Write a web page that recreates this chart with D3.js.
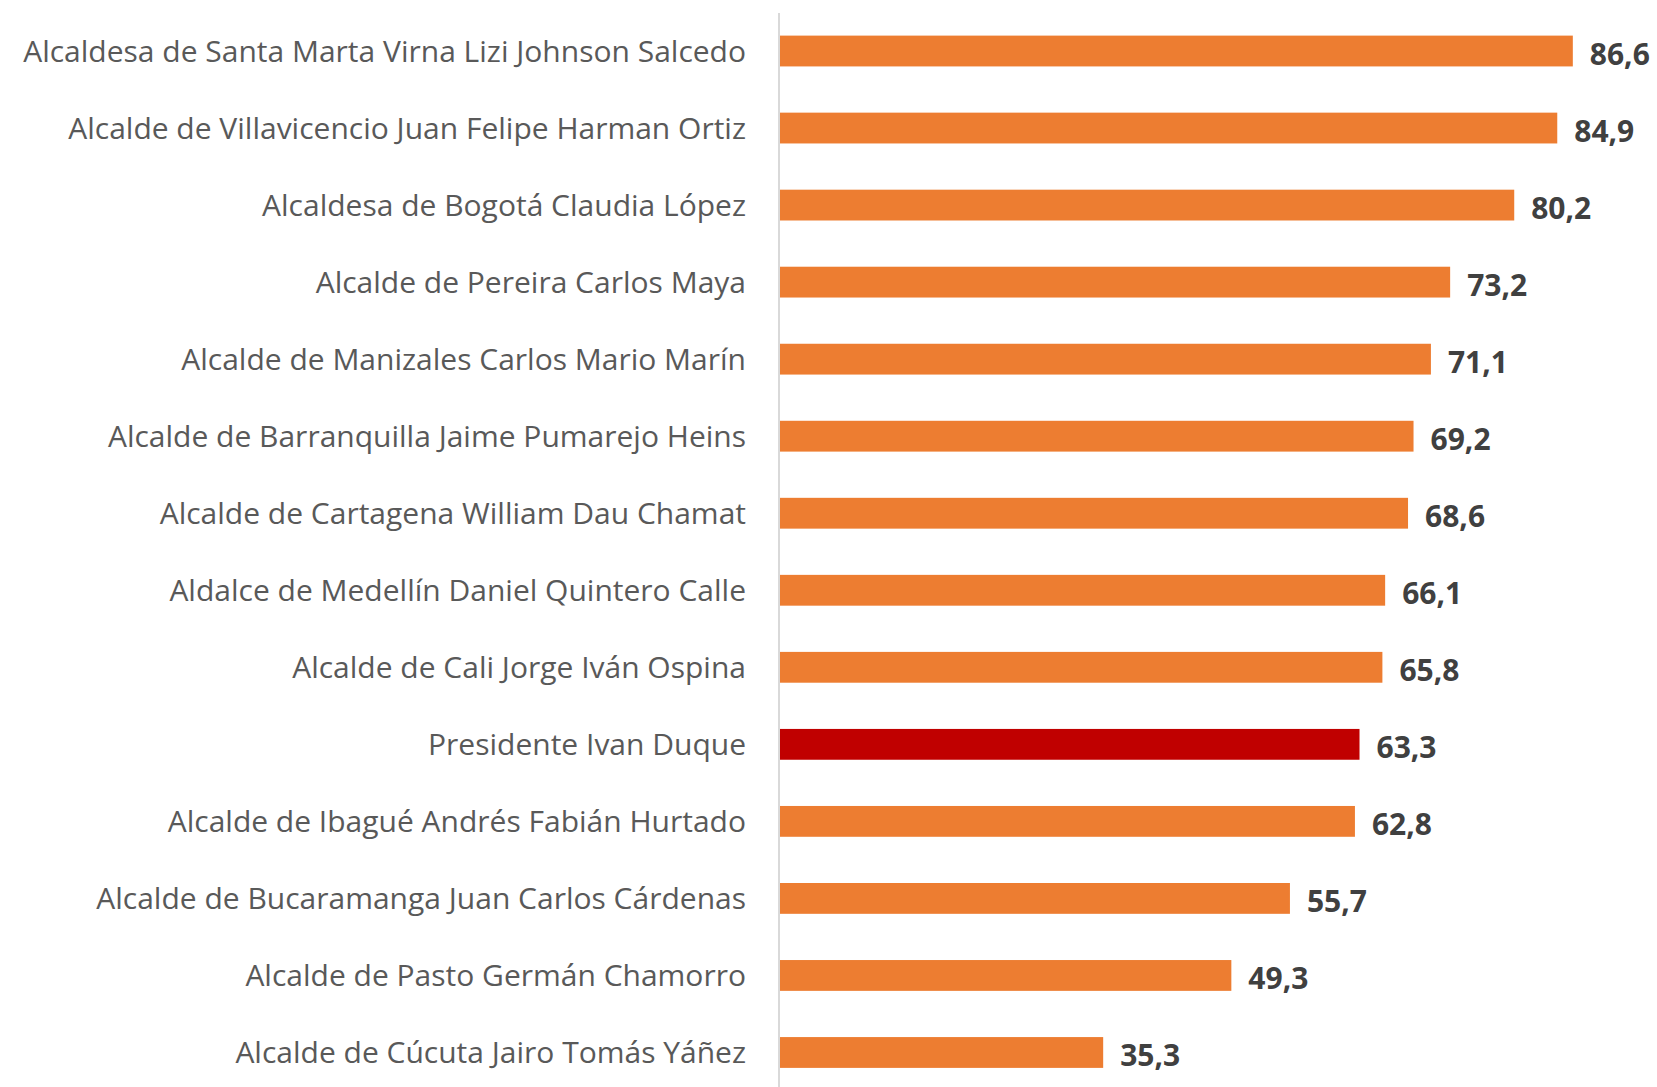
<!DOCTYPE html>
<html>
<head>
<meta charset="utf-8">
<script src="https://cdn.jsdelivr.net/npm/d3@7"></script>
<style>
  html, body { margin: 0; padding: 0; background: #fff; }
  svg { display: block; }
</style>
</head>
<body>
<svg id="chart" width="1657" height="1087"></svg>
<script>
const categories = [
  "Alcaldesa de Santa Marta Virna Lizi Johnson Salcedo",
  "Alcalde de Villavicencio Juan Felipe Harman Ortiz",
  "Alcaldesa de Bogotá Claudia López",
  "Alcalde de Pereira Carlos Maya",
  "Alcalde de Manizales Carlos Mario Marín",
  "Alcalde de Barranquilla Jaime Pumarejo Heins",
  "Alcalde de Cartagena William Dau Chamat",
  "Aldalce de Medellín Daniel Quintero Calle",
  "Alcalde de Cali Jorge Iván Ospina",
  "Presidente Ivan Duque",
  "Alcalde de Ibagué Andrés Fabián Hurtado",
  "Alcalde de Bucaramanga Juan Carlos Cárdenas",
  "Alcalde de Pasto Germán Chamorro",
  "Alcalde de Cúcuta Jairo Tomás Yáñez"
];
const values = [86.6, 84.9, 80.2, 73.2, 71.1, 69.2, 68.6, 66.1, 65.8, 63.3, 62.8, 55.7, 49.3, 35.3];
const highlighted = ["Presidente Ivan Duque"];

const svg = d3.select("#chart");
const x0 = 780;
const x = d3.scaleLinear().domain([0, 100]).range([x0, x0 + 915.5]);
const y = d3.scaleBand().domain(categories).range([12.5, 1091]).paddingInner(0.6).paddingOuter(0.3);

const fmt = v => d3.format(".1f")(v).replace(".", ",");

// category axis line
svg.append("line")
  .attr("x1", x0 - 1).attr("x2", x0 - 1)
  .attr("y1", 13).attr("y2", 1087)
  .attr("stroke", "#d9d9d9").attr("stroke-width", 2);

// bars
svg.selectAll("rect.bar").data(categories).join("rect")
  .attr("class", "bar")
  .attr("x", x(0))
  .attr("y", d => y(d))
  .attr("height", y.bandwidth())
  .attr("width", (d, i) => x(values[i]) - x(0))
  .attr("fill", d => highlighted.includes(d) ? "#C00000" : "#ED7D31");

// category labels
svg.selectAll("text.cat").data(categories).join("text")
  .attr("class", "cat")
  .attr("x", 746)
  .attr("y", d => y(d) + y.bandwidth() / 2)
  .attr("dy", "0.35em")
  .attr("text-anchor", "end")
  .attr("font-family", "'Open Sans', sans-serif")
  .attr("font-size", 30)
  .attr("fill", "#595959")
  .text(d => d);

// value labels
svg.selectAll("text.val").data(categories).join("text")
  .attr("class", "val")
  .attr("x", (d, i) => x(values[i]) + 17)
  .attr("y", d => y(d) + y.bandwidth() / 2 + 3)
  .attr("dy", "0.35em")
  .attr("font-family", "'Open Sans', sans-serif")
  .attr("font-weight", "bold")
  .attr("font-size", 30)
  .attr("fill", "#404040")
  .text((d, i) => fmt(values[i]));
</script>
</body>
</html>
